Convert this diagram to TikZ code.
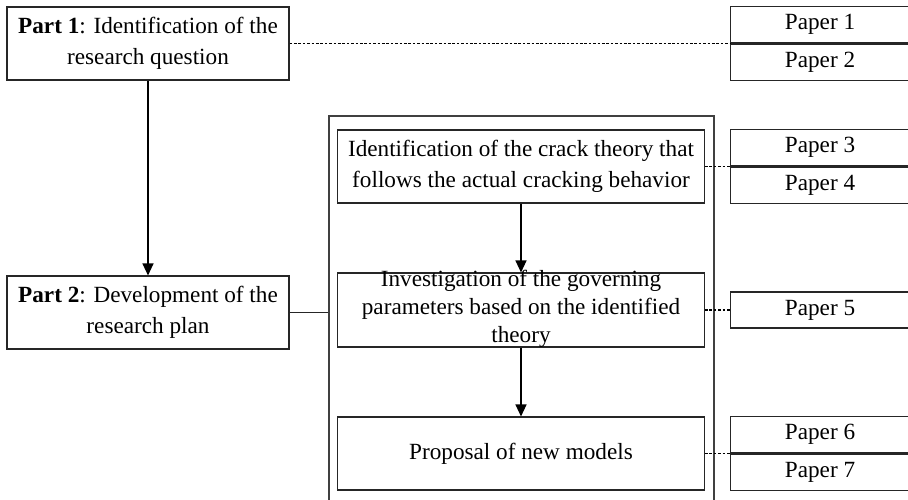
\documentclass[tikz,border=0pt]{standalone}
\usepackage{fontspec}
\setmainfont{Liberation Serif}
\usetikzlibrary{arrows.meta}

\tikzset{
  box/.style={draw=black!85, line width=1.1pt, inner sep=0pt, align=center,
              font=\fontsize{23.2}{31}\selectfont},
  paper/.style={box, minimum width=179pt, minimum height=36.5pt},
  txt/.style={inner sep=0pt, align=center, font=\fontsize{23.2}{28}\selectfont},
  flow/.style={draw=black, line width=1.2pt, -{Triangle[width=11pt,length=12pt]}},
  link/.style={draw=black, line width=1.6pt, dash pattern=on 2.6pt off 1.8pt},
  plain/.style={draw=black!85, line width=1.1pt}
}

\begin{document}
\begin{tikzpicture}[x=1pt,y=-1pt]
\useasboundingbox (0,0) rectangle (908,499);
\clip (0,0) rectangle (908,499);

% left column: the two parts
\node[box, minimum width=282pt, minimum height=73pt] (p1) at (148,43.5)
  {\textbf{Part 1}: Identification of the\\research question};
\node[box, minimum width=282pt, minimum height=73pt] (p2) at (148,312.5)
  {\textbf{Part 2}: Development of the\\research plan};

% frame around the research plan steps
\node[draw=black!75, line width=1.1pt, inner sep=0pt,
      minimum width=385pt, minimum height=404pt] (frame) at (521.5,318) {};

% research plan steps
\node[box, minimum width=367pt, minimum height=73pt] (s1) at (521,166.5)
  {Identification of the crack theory that\\follows the actual cracking behavior};
\node[box, minimum width=367pt, minimum height=74pt] (s2) at (521,310) {};
\node[txt] (s2t) at (521,309)
  {Investigation of the governing\\parameters based on the identified\\theory};
\node[box, minimum width=367pt, minimum height=73pt] (s3) at (521,453.5)
  {Proposal of new models};

% papers
\node[paper, anchor=south west] (pa1) at (730,43.5) {Paper 1};
\node[paper, anchor=north west] (pa2) at (730,43.5) {Paper 2};
\node[paper, anchor=south west] (pa3) at (730,166.5) {Paper 3};
\node[paper, anchor=north west] (pa4) at (730,166.5) {Paper 4};
\node[paper, minimum height=36pt, anchor=west] (pa5) at (730,310) {Paper 5};
\node[paper, anchor=south west] (pa6) at (730,453.5) {Paper 6};
\node[paper, anchor=north west] (pa7) at (730,453.5) {Paper 7};

% flow arrows
\draw[flow] (p1.south) -- (p2.north);
\draw[flow] (s1.south) -- (s2.north);
\draw[flow] (s2.south) -- (s3.north);

% part 2 joins the frame
\draw[plain] (p2.east) -- (p2.east -| frame.west);

% dotted links to the papers
\draw[link] (p1.east) -- (pa1.south west);
\draw[link] (s1.east) -- (pa3.south west);
\draw[link] (s2.east) -- (pa5.west);
\draw[link] (s3.east) -- (pa6.south west);
\end{tikzpicture}
\end{document}
